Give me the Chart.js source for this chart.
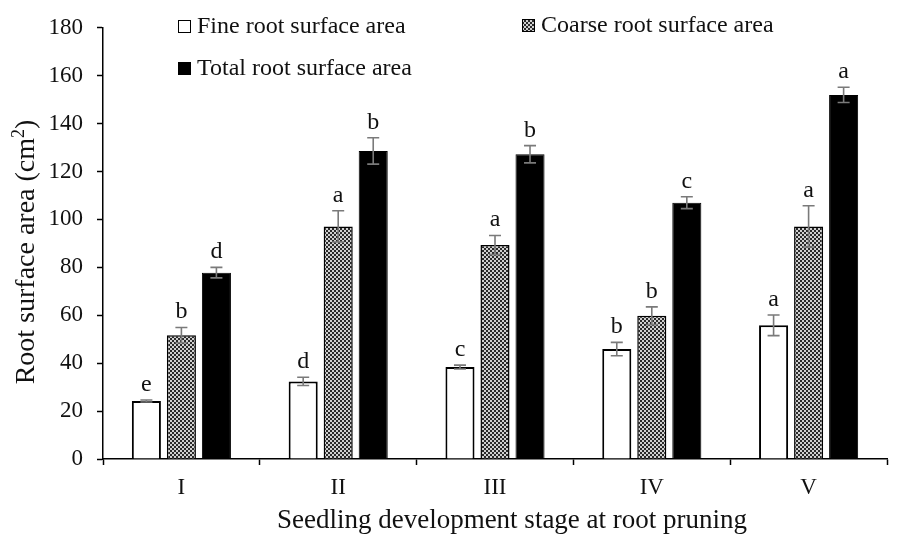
<!DOCTYPE html>
<html>
<head>
<meta charset="utf-8">
<script src="https://cdn.jsdelivr.net/npm/chart.js@4"></script>
<style>
  body { margin: 0; background: white; }
  #wrap { width: 897px; height: 546px; }
</style>
</head>
<body>
<div id="wrap"><canvas id="chart"></canvas></div>
<script>
const stages = ["I", "II", "III", "IV", "V"];
const yTicks = [0, 20, 40, 60, 80, 100, 120, 140, 160, 180];

const fineArea = [24.2, 32.4, 38.4, 45.9, 55.8];
const fineErr = [0.4, 1.7, 0.8, 2.8, 4.3];
const fineLetters = ["e", "d", "c", "b", "a"];

const coarseArea = [51.7, 97.1, 89.3, 59.8, 97.1];
const coarseErr = [3.2, 6.5, 4.0, 3.7, 8.6];
const coarseLetters = ["b", "a", "a", "b", "a"];

const totalArea = [77.8, 128.6, 127.2, 107.0, 152.0];
const totalErr = [2.2, 5.5, 3.6, 2.5, 3.2];
const totalLetters = ["d", "b", "b", "c", "a"];

const xTitle = "Seedling development stage at root pruning";
const yTitle = "Root surface area (cm";

const serif = "'Liberation Serif', 'Times New Roman', serif";

function checker() {
    const c = document.createElement("canvas");
    c.width = 4;
    c.height = 4;
    const g = c.getContext("2d");
    g.fillStyle = "#d0d0d0";
    g.fillRect(0, 0, 4, 4);
    g.fillStyle = "#2a2a2a";
    g.fillRect(0, 0, 2, 2);
    g.fillRect(2, 2, 2, 2);
    return g.createPattern(c, "repeat");
}

const ctx = document.getElementById("chart").getContext("2d");
const coarseFill = checker();

// error bars + significance letters
const errorPlugin = {
    id: "errors",
    afterDatasetsDraw(chart) {
        const g = chart.ctx;
        const y = chart.scales.y;
        chart.data.datasets.forEach((ds, i) => {
            const meta = chart.getDatasetMeta(i);
            meta.data.forEach((bar, j) => {
                const v = ds.data[j];
                const e = ds.err[j];
                const top = y.getPixelForValue(v + e);
                const bot = y.getPixelForValue(v - e);
                g.save();
                g.strokeStyle = "#7a7a7a";
                g.lineWidth = 1.6;
                g.beginPath();
                g.moveTo(bar.x, top);
                g.lineTo(bar.x, bot);
                g.moveTo(bar.x - 6, top);
                g.lineTo(bar.x + 6, top);
                g.moveTo(bar.x - 6, bot);
                g.lineTo(bar.x + 6, bot);
                g.stroke();
                g.fillStyle = "#111";
                g.font = "24px " + serif;
                g.textAlign = "center";
                g.textBaseline = "alphabetic";
                g.fillText(ds.letters[j], bar.x, top - 9);
                g.restore();
            });
        });
    }
};

// legend inside the plot area, plus the two axis titles
const legendPlugin = {
    id: "innerLegend",
    afterDraw(chart) {
        const g = chart.ctx;
        const spots = [[178, 20], [522, 19], [178, 62]];
        chart.data.datasets.forEach((ds, i) => {
            const [x, y] = spots[i];
            g.save();
            g.fillStyle = ds.backgroundColor;
            g.fillRect(x, y, 13, 13);
            g.strokeStyle = "#000";
            g.lineWidth = 1;
            g.strokeRect(x + 0.5, y + 0.5, 12, 12);
            g.fillStyle = "#111";
            g.font = "24px " + serif;
            g.textBaseline = "middle";
            g.fillText(ds.label, x + 19, y + 7);
            g.restore();
        });

        g.save();
        g.fillStyle = "#111";
        g.font = "27px " + serif;
        g.textAlign = "center";
        g.textBaseline = "middle";
        g.fillText(xTitle, 512, 521);

        // y title with a small superscript 2
        g.translate(27, 252);
        g.rotate(-Math.PI / 2);
        g.font = "28px " + serif;
        const w1 = g.measureText(yTitle).width;
        g.font = "18px " + serif;
        const w2 = g.measureText("2").width;
        g.font = "28px " + serif;
        const w3 = g.measureText(")").width;
        let x0 = -(w1 + w2 + w3) / 2;
        g.textAlign = "left";
        g.fillText(yTitle, x0, 0);
        g.font = "18px " + serif;
        g.fillText("2", x0 + w1, -8);
        g.font = "28px " + serif;
        g.fillText(")", x0 + w1 + w2, 0);
        g.restore();
    }
};

new Chart(ctx, {
    type: "bar",
    data: {
        labels: stages,
        datasets: [
            {
                label: "Fine root surface area",
                data: fineArea,
                err: fineErr,
                letters: fineLetters,
                backgroundColor: "#ffffff",
                borderColor: "#000000",
                borderWidth: 2
            },
            {
                label: "Coarse root surface area",
                data: coarseArea,
                err: coarseErr,
                letters: coarseLetters,
                backgroundColor: coarseFill,
                borderColor: "#000000",
                borderWidth: 1.5
            },
            {
                label: "Total root surface area",
                data: totalArea,
                err: totalErr,
                letters: totalLetters,
                backgroundColor: "#000000",
                borderColor: "#000000",
                borderWidth: 1
            }
        ]
    },
    options: {
        responsive: true,
        maintainAspectRatio: false,
        animation: false,
        devicePixelRatio: 1,
        categoryPercentage: 0.67,
        barPercentage: 0.83,
        layout: { padding: { left: 0, right: 10, top: 20, bottom: 0 } },
        plugins: {
            legend: { display: false },
            tooltip: { enabled: false }
        },
        scales: {
            x: {
                afterFit(scale) { scale.height = 87; },
                border: { color: "#000", width: 1.5 },
                grid: {
                    offset: true,
                    drawOnChartArea: false,
                    tickLength: 6,
                    tickColor: "#000",
                    tickWidth: 1.5
                },
                ticks: {
                    color: "#111",
                    padding: 9,
                    font: { family: serif, size: 23 }
                }
            },
            y: {
                min: 0,
                max: 180,
                afterFit(scale) { scale.width = 103; },
                afterBuildTicks(scale) {
                    scale.ticks = yTicks.map(v => ({ value: v }));
                },
                border: { color: "#000", width: 1.5 },
                grid: {
                    drawOnChartArea: false,
                    tickLength: 6,
                    tickColor: "#000",
                    tickWidth: 1.5
                },
                ticks: {
                    color: "#111",
                    padding: 14,
                    font: { family: serif, size: 23 }
                }
            }
        }
    },
    plugins: [errorPlugin, legendPlugin]
});
</script>
</body>
</html>
